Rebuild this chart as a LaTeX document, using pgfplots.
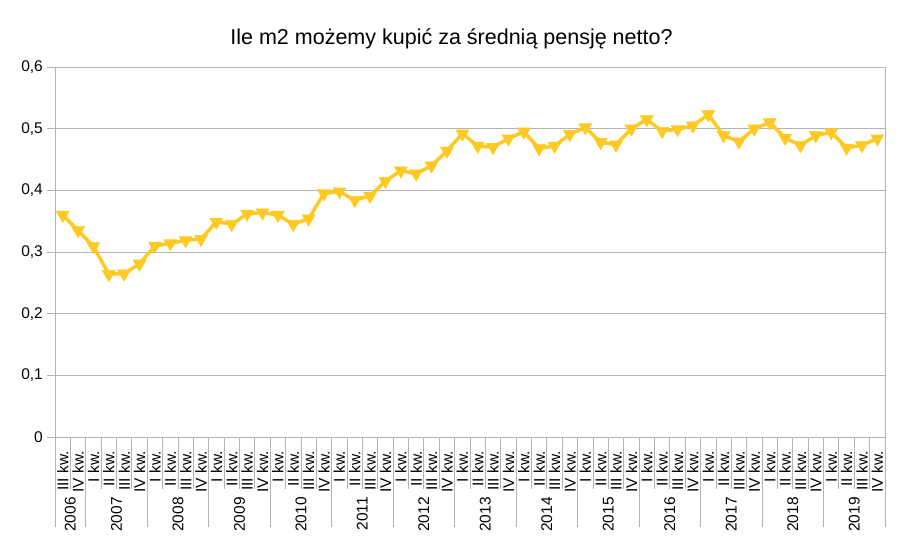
\documentclass[border=0pt]{standalone}
\usepackage{pgfplots}
\pgfplotsset{compat=1.18}
\usepackage{fontspec}
\setmainfont{Liberation Sans}
\definecolor{gold}{HTML}{FFC923}
\definecolor{gridgray}{HTML}{B3B3B3}
\newcommand{\tickfont}{\fontsize{15.5}{18}\selectfont}
\newcommand{\titlefont}{\fontsize{21.5}{25}\selectfont}
\begin{document}
\begin{tikzpicture}
\begin{axis}[
  name=ax,
  width=830pt, height=370pt, scale only axis,
  xmin=-0.5, xmax=53.5, ymin=0, ymax=0.6,
  ytick={0,0.1,0.2,0.3,0.4,0.5,0.6},
  ymajorgrids, grid style={gridgray, line width=0.8pt},
  axis line style={gridgray, line width=0.8pt},
  tick style={gridgray, line width=0.8pt},
  tick align=outside, xtick pos=bottom, ytick pos=left,
  major tick length=8pt, minor tick length=52pt,
  every major x tick/.append style={draw=none},
  xtick={0,...,53},
  minor xtick={-0.5,0.5,...,53.5},
  xticklabels={III kw.,IV kw.,I kw.,II kw.,III kw.,IV kw.,I kw.,II kw.,III kw.,IV kw.,I kw.,II kw.,III kw.,IV kw.,I kw.,II kw.,III kw.,IV kw.,I kw.,II kw.,III kw.,IV kw.,I kw.,II kw.,III kw.,IV kw.,I kw.,II kw.,III kw.,IV kw.,I kw.,II kw.,III kw.,IV kw.,I kw.,II kw.,III kw.,IV kw.,I kw.,II kw.,III kw.,IV kw.,I kw.,II kw.,III kw.,IV kw.,I kw.,II kw.,III kw.,IV kw.,I kw.,II kw.,III kw.,IV kw.},
  xticklabel style={font=\tickfont, inner sep=0pt, yshift=-6pt, rotate=90, anchor=east},
  yticklabel style={font=\tickfont, inner sep=0pt, xshift=-4pt},
  /pgf/number format/.cd, use comma, fixed, precision=1, assume math mode=true,
  /pgfplots/.cd,
  clip=false,
]
\addplot[gold, line width=3.5pt, mark=triangle*, mark size=7.5pt,
  mark options={rotate=180, solid, fill=gold, draw=gold, line width=0.5pt}]
  coordinates {
(0,0.360) (1,0.335) (2,0.309) (3,0.264) (4,0.265) (5,0.281)
(6,0.310) (7,0.314) (8,0.319) (9,0.321)
(10,0.349) (11,0.345) (12,0.362) (13,0.364)
(14,0.360) (15,0.345) (16,0.354) (17,0.395)
(18,0.398) (19,0.384) (20,0.391) (21,0.415)
(22,0.432) (23,0.427) (24,0.440) (25,0.464)
(26,0.492) (27,0.472) (28,0.470) (29,0.484)
(30,0.495) (31,0.468) (32,0.472) (33,0.491)
(34,0.502) (35,0.478) (36,0.474) (37,0.500)
(38,0.515) (39,0.496) (40,0.499) (41,0.505)
(42,0.523) (43,0.489) (44,0.479) (45,0.500)
(46,0.510) (47,0.485) (48,0.473) (49,0.489)
(50,0.494) (51,0.469) (52,0.473) (53,0.484)
};
\pgfplotsinvokeforeach{-0.5,1.5,5.5,9.5,13.5,17.5,21.5,25.5,29.5,33.5,37.5,41.5,45.5,49.5,53.5}{
  \draw[gridgray, line width=0.8pt] (axis cs:#1,0) -- ++(0pt,-90pt);
}
\node[font=\tickfont, rotate=90, anchor=east, inner sep=0pt] at ([yshift=-60pt]axis cs:0.5,0) {2006};
\node[font=\tickfont, rotate=90, anchor=east, inner sep=0pt] at ([yshift=-60pt]axis cs:3.5,0) {2007};
\node[font=\tickfont, rotate=90, anchor=east, inner sep=0pt] at ([yshift=-60pt]axis cs:7.5,0) {2008};
\node[font=\tickfont, rotate=90, anchor=east, inner sep=0pt] at ([yshift=-60pt]axis cs:11.5,0) {2009};
\node[font=\tickfont, rotate=90, anchor=east, inner sep=0pt] at ([yshift=-60pt]axis cs:15.5,0) {2010};
\node[font=\tickfont, rotate=90, anchor=east, inner sep=0pt] at ([yshift=-60pt]axis cs:19.5,0) {2011};
\node[font=\tickfont, rotate=90, anchor=east, inner sep=0pt] at ([yshift=-60pt]axis cs:23.5,0) {2012};
\node[font=\tickfont, rotate=90, anchor=east, inner sep=0pt] at ([yshift=-60pt]axis cs:27.5,0) {2013};
\node[font=\tickfont, rotate=90, anchor=east, inner sep=0pt] at ([yshift=-60pt]axis cs:31.5,0) {2014};
\node[font=\tickfont, rotate=90, anchor=east, inner sep=0pt] at ([yshift=-60pt]axis cs:35.5,0) {2015};
\node[font=\tickfont, rotate=90, anchor=east, inner sep=0pt] at ([yshift=-60pt]axis cs:39.5,0) {2016};
\node[font=\tickfont, rotate=90, anchor=east, inner sep=0pt] at ([yshift=-60pt]axis cs:43.5,0) {2017};
\node[font=\tickfont, rotate=90, anchor=east, inner sep=0pt] at ([yshift=-60pt]axis cs:47.5,0) {2018};
\node[font=\tickfont, rotate=90, anchor=east, inner sep=0pt] at ([yshift=-60pt]axis cs:51.5,0) {2019};
\end{axis}
\node[font=\titlefont, anchor=base] at ([xshift=396.5pt, yshift=392pt]ax.south west) {Ile m2 możemy kupić za średnią pensję netto?};
\pgfresetboundingbox
\path[use as bounding box] ([xshift=-55pt, yshift=-116pt]ax.south west) rectangle ([xshift=848pt, yshift=437pt]ax.south west);
\end{tikzpicture}
\end{document}
